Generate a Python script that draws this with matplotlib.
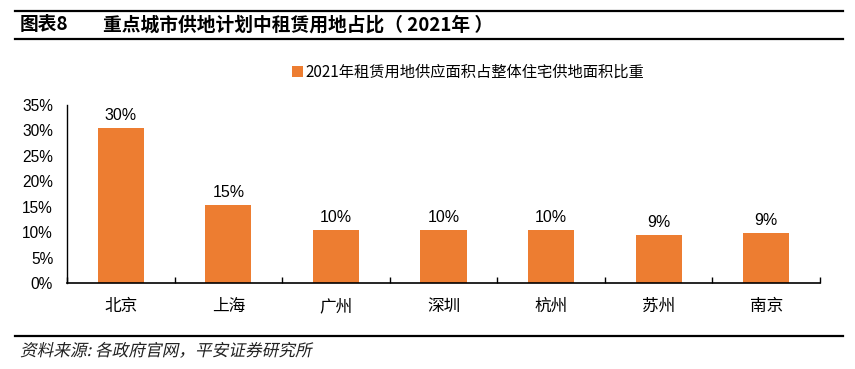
import numpy as np
import matplotlib.pyplot as plt
from matplotlib.textpath import TextPath
from matplotlib.patches import PathPatch
from matplotlib.font_manager import FontProperties
from matplotlib.transforms import Affine2D

plt.rcParams['font.family'] = ['Liberation Sans', 'Noto Sans CJK SC', 'DejaVu Sans']

# data
cities = ['北京', '上海', '广州', '深圳', '杭州', '苏州', '南京']
shares = [30.5, 15.4, 10.5, 10.5, 10.5, 9.5, 9.9]
labels = ['30%', '15%', '10%', '10%', '10%', '9%', '9%']
yticks = [0, 5, 10, 15, 20, 25, 30, 35]

title_num = '图表8'
title_txt = '重点城市供地计划中租赁用地占比（ 2021年 ）'
legend_txt = '2021年租赁用地供应面积占整体住宅供地面积比重'
source_txt = '资料来源: 各政府官网，平安证券研究所'

orange = '#ED7D31'
cjk = ['Noto Sans CJK SC', 'DejaVu Sans']

fig = plt.figure(figsize=(8.55, 3.69), dpi=100)
ax = fig.add_axes([67/855, 1-283/369, (820-67)/855, (283-105)/369])

x = np.arange(len(cities))
bars = ax.bar(x, shares, width=0.43, color=orange, label=legend_txt)
for b, lab in zip(bars, labels):
    ax.text(b.get_x() + b.get_width()/2, b.get_height() + 1.0, lab,
            ha='center', va='bottom', fontsize=11.5)

ax.set_xlim(-0.5, len(cities) - 0.5)
ax.set_ylim(0, 35)
ax.set_yticks(yticks)
ax.set_yticklabels([f'{t}%' for t in yticks], fontsize=11.2)
ax.set_xticks(x)
ax.set_xticklabels(cities, fontsize=12, family=cjk)
ax.tick_params(axis='x', length=0, pad=11)
ax.tick_params(axis='y', length=0, pad=10)
# tick marks between categories
ax.set_xticks(np.arange(len(cities) + 1) - 0.5, minor=True)
ax.tick_params(axis='x', which='minor', direction='in', length=4, width=1)
for s in ['top', 'right']:
    ax.spines[s].set_visible(False)
ax.spines['left'].set_linewidth(1.0)
ax.spines['bottom'].set_linewidth(1.2)

leg = fig.legend(loc='center', bbox_to_anchor=(468/855, 1-72/369), frameon=False,
                 handlelength=0.75, handleheight=0.75, handletextpad=0.15,
                 prop={'family': cjk, 'size': 11})

# header and footer rules
for yy in [11, 39, 336]:
    fig.add_artist(plt.Line2D([15/855, 843/855], [1-yy/369]*2, color='black', lw=1.6))

fig.text(20/855, 1-25/369, title_num, fontsize=13.5, family=cjk, weight='bold', va='center')
fig.text(103/855, 1-25/369, title_txt, fontsize=13.5, family=cjk, weight='bold', va='center')

# slanted footer text
fp = FontProperties(family='Noto Sans CJK SC', size=12)
tp = TextPath((0, 0), source_txt, prop=fp)
tr = Affine2D().skew_deg(12, 0).scale(100/72) + Affine2D().translate(20, 369-356)
fig.add_artist(PathPatch(tp, transform=tr, color='#222222', lw=0))

fig.savefig('out.png', dpi=100)
